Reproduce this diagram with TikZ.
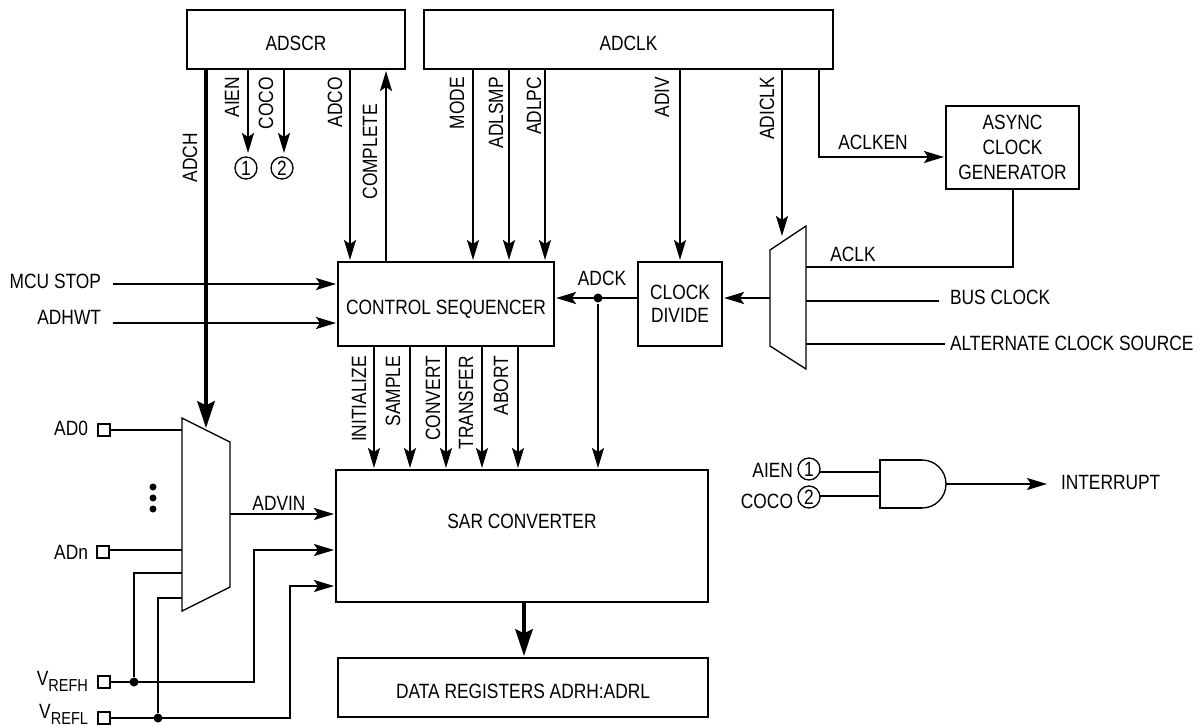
\documentclass[tikz,border=0pt]{standalone}
\usepackage{fontspec}
\setmainfont[FakeStretch=0.84]{Liberation Sans}
\usetikzlibrary{arrows.meta}
\newlength{\upx}
\setlength{\upx}{0.75pt}
\newcommand{\boxtxt}[2]{\raisebox{#1}[11.1pt][0pt]{#2}}
\newcommand{\subtxt}[1]{\raisebox{-5pt}{\fontsize{13pt}{15pt}\selectfont #1}}
\tikzset{every picture/.style={line width=1.5pt}}
\tikzset{
  block/.style={draw,inner sep=0pt,outer sep=0pt,align=center,font=\fontsize{15.5pt}{18.5pt}\selectfont},
  txt/.style={inner sep=0pt,outer sep=0pt,font=\fontsize{15.5pt}{18pt}\selectfont},
  vtxt/.style={txt,rotate=90,anchor=east},
  pinbox/.style={draw,inner sep=0pt,outer sep=0pt,minimum size=12\upx},
  ref/.style={draw,circle,inner sep=0pt,outer sep=0pt,line width=1pt,minimum size=22\upx,font=\fontsize{15.5pt}{18pt}\selectfont},
  sig/.style={-{Stealth[length=15pt,width=9pt,inset=3pt]},shorten >=1.5pt},
  bus/.style={line width=3pt,-{Stealth[length=20pt,width=13pt,inset=3pt]},shorten >=1.5pt},
  dot/.style={circle,fill,inner sep=0pt,minimum size=9\upx},
}
\begin{document}
\begin{tikzpicture}[x=0.75pt,y=-0.75pt]
\useasboundingbox (0,0) rectangle (1201,726);
\node[block,minimum width=218\upx,minimum height=59\upx] (adscr) at (296,39.5) {\boxtxt{-2.6pt}{ADSCR}};
\node[block,minimum width=409\upx,minimum height=59\upx] (adclk) at (628.5,39.5) {\boxtxt{-2.6pt}{ADCLK}};
\node[block,minimum width=133\upx,minimum height=83\upx] (async) at (1012.5,147.5) {ASYNC\\CLOCK\\GENERATOR};
\node[block,minimum width=216\upx,minimum height=84\upx] (ctrl) at (446,304) {\boxtxt{-2.2pt}{CONTROL SEQUENCER}};
\node[block,font=\fontsize{15.5pt}{17.5pt}\selectfont,minimum width=84\upx,minimum height=84\upx] (cdiv) at (680,304) {CLOCK\\DIVIDE};
\node[block,minimum width=372\upx,minimum height=132\upx] (sar) at (522,536) {\boxtxt{11.2pt}{SAR CONVERTER}};
\node[block,minimum width=370\upx,minimum height=59\upx] (data) at (523,687.5) {\boxtxt{-2.6pt}{DATA REGISTERS ADRH:ADRL}};
\draw[line width=1pt] (182,418) -- (230,442) -- (230,587) -- (182,611) -- cycle;
\draw[line width=1pt] (770,250) -- (806,226) -- (806,369) -- (770,346) -- cycle;
\draw (922,460) -- (880,460) -- (880,508) -- (922,508);
\draw[line width=1pt] (922,460) arc[start angle=90,end angle=-90,radius=24\upx];
\coordinate (muxtop) at (206,430);
\coordinate (clkmuxtop) at (782,238);
\coordinate (gateout) at (946,484);
\node[ref] (one) at (246,168) {1};
\node[ref] (two) at (282,168) {2};
\node[ref] (andone) at (809,469) {1};
\node[ref] (andtwo) at (809,497) {2};
\node[pinbox] (ad0) at (104,430) {};
\node[pinbox] (adn) at (103,552) {};
\node[pinbox] (vrefh) at (104,682) {};
\node[pinbox] (vrefl) at (104,718) {};
\node[txt,anchor=east] (lad0) at (88,428) {AD0};
\node[txt,anchor=east] (ladn) at (88,552) {ADn};
\node[txt,anchor=base east] (lvrefh) at (88,685) {V\subtxt{REFH}};
\node[txt,anchor=base east] (lvrefl) at (88,718) {V\subtxt{REFL}};
\node[txt,anchor=east] (lmcu) at (101,281) {MCU STOP};
\node[txt,anchor=east] (lhwt) at (101,317) {ADHWT};
\node[txt,anchor=west] (lbus) at (950,297) {BUS CLOCK};
\node[txt,anchor=west] (lalt) at (950,343) {ALTERNATE CLOCK SOURCE};
\node[txt] (ladck) at (602,278) {ADCK};
\node[txt] (laclk) at (853,254) {ACLK};
\node[txt] (laclken) at (873,142) {ACLKEN};
\node[txt] (ladvin) at (279,503) {ADVIN};
\node[txt,anchor=east] (laien) at (793,470) {AIEN};
\node[txt,anchor=east] (lcoco) at (793,501) {COCO};
\node[txt,anchor=west] (lint) at (1061,482) {INTERRUPT};
\node[dot] (adckdot) at (598,298) {};
\node[dot] (hdot) at (134,682) {};
\node[dot] (ldot) at (158,718) {};
\node[dot,minimum size=7\upx] (dota) at (153,487) {};
\node[dot,minimum size=7\upx] (dotb) at (153,498) {};
\node[dot,minimum size=7\upx] (dotc) at (153,509) {};
\foreach \sig/\xpos/\xtxt in {MODE/473/457,ADLSMP/509/496,ADLPC/545/534}{
  \coordinate (\sig) at (\xpos,0);
  \node[vtxt] (l\sig) at (\xtxt,77) {\sig};
  \draw[sig] (adclk.south -| \sig) -- (ctrl.north -| \sig);
}
\foreach \sig/\xpos/\xtxt in {INITIALIZE/374/359,SAMPLE/410/393,CONVERT/446/433,TRANSFER/482/466,ABORT/518/501}{
  \coordinate (\sig) at (\xpos,0);
  \node[vtxt] (l\sig) at (\xtxt,356) {\sig};
  \draw[sig] (ctrl.south -| \sig) -- (sar.north -| \sig);
}
\coordinate (adco) at (350,0);
\coordinate (cpl) at (386,0);
\coordinate (adiv) at (680,0);
\coordinate (aclken) at (819,0);
\coordinate (aclkenin) at (946,157);
\coordinate (sardata) at (524,0);
\coordinate (aiendn) at (248,153);
\coordinate (cocodn) at (284,153);
\coordinate (aclkin) at (806,267);
\coordinate (busin) at (806,301);
\coordinate (altin) at (806,344);
\coordinate (busend) at (939,301);
\coordinate (altend) at (945,344);
\coordinate (clkmuxout) at (770,298);
\coordinate (mcuend) at (113,284);
\coordinate (hwtend) at (113,323);
\coordinate (muxout) at (230,514);
\coordinate (hin) at (182,573);
\coordinate (lin) at (182,598);
\coordinate (adnin) at (182,550);
\coordinate (ad0in) at (182,430);
\coordinate (hbend) at (254,550);
\coordinate (lbend) at (290,586);
\coordinate (aclkdn) at (1013,0);
\coordinate (andina) at (880,472);
\coordinate (andinb) at (880,496);
\coordinate (intend) at (1049,484);
\node[vtxt] (ladch) at (190,133) {ADCH};
\node[vtxt] (laiena) at (232,77) {AIEN};
\node[vtxt] (lcocoa) at (266,77) {COCO};
\node[vtxt] (ladco) at (335,77) {ADCO};
\node[vtxt] (lcpl) at (370,104) {COMPLETE};
\node[vtxt] (ladiv) at (662,77) {ADIV};
\node[vtxt] (ladiclk) at (767,77) {ADICLK};
\draw[bus] (adscr.south -| muxtop) -- (muxtop);
\draw[sig,shorten >=0pt] (adscr.south -| aiendn) -- (aiendn);
\draw[sig,shorten >=0pt] (adscr.south -| cocodn) -- (cocodn);
\draw[sig] (adscr.south -| adco) -- (ctrl.north -| adco);
\draw[sig] (ctrl.north -| cpl) -- (adscr.south -| cpl);
\draw[sig] (adclk.south -| adiv) -- (cdiv.north -| adiv);
\draw[sig] (adclk.south -| clkmuxtop) -- (clkmuxtop);
\draw[sig] (adclk.south -| aclken) |- (aclkenin);
\draw (async.south -| aclkdn) |- (aclkin);
\draw (busin) -- (busend);
\draw (altin) -- (altend);
\draw[sig] (clkmuxout) -- (clkmuxout -| cdiv.east);
\draw[sig] (cdiv.west |- adckdot) -- (ctrl.east |- adckdot);
\draw[sig] (adckdot) -- (sar.north -| adckdot);
\draw[sig] (mcuend) -- (mcuend -| ctrl.west);
\draw[sig] (hwtend) -- (hwtend -| ctrl.west);
\draw (ad0) -- (ad0in);
\draw (adn.east |- adnin) -- (adnin);
\draw[sig] (muxout) -- (muxout -| sar.west);
\draw[sig] (vrefh) -| (hbend) -- (hbend -| sar.west);
\draw[sig] (vrefl) -| (lbend) -- (lbend -| sar.west);
\draw (hdot) |- (hin);
\draw (ldot) |- (lin);
\draw[bus] (sar.south -| sardata) -- (data.north -| sardata);
\draw (andone.east |- andina) -- (andina);
\draw (andtwo.east |- andinb) -- (andinb);
\draw[sig] (gateout) -- (intend);
\end{tikzpicture}
\end{document}
